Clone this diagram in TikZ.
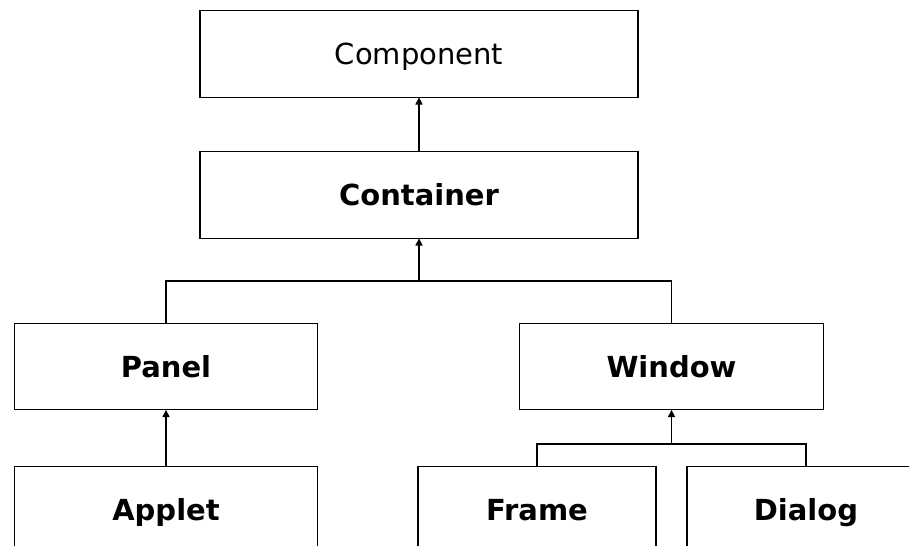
\documentclass[tikz,border=0pt]{standalone}
\usepackage{fontspec}
\setmainfont{DejaVu Sans}
\usetikzlibrary{positioning,arrows.meta}

\begin{document}
\begin{tikzpicture}[x=0.02cm, y=-0.02cm,
  box/.style={draw, line width=0.8pt, inner sep=0pt, outer sep=0pt, minimum height=1.73cm, text height=12pt, text depth=0pt, align=center, font=\fontsize{16.5}{20}\selectfont\bfseries},
  wide/.style={minimum width=8.76cm},
  mid/.style={minimum width=6.07cm},
  small/.style={minimum width=4.76cm},
  arr/.style={-{Triangle[length=4.2pt,width=4pt]}, line width=0.8pt},
  link/.style={line width=0.8pt}
]
\clip (0,0) rectangle (909,546);
\node[box, wide, font=\fontsize{16.5}{20}\selectfont] (comp) at (419,54) {Component};
\node[box, wide] (cont) at (419,195) {Container};
\node[box, mid] (panel) at (166,366.5) {Panel};
\node[box, mid] (window) at (671.5,366.5) {Window};
\node[box, mid] (applet) at (166,509.5) {Applet};
\node[box, small] (frame) at (537,509.5) {Frame};
\node[box, small] (dialog) at (806,509.5) {Dialog};
% joints of the two branchings
\coordinate (j1) at (419,281);
\coordinate (j2) at (671.5,444);
\draw[arr] (cont) -- (comp);
\draw[link] (panel.north) |- (j1) -| (window.north);
\draw[arr] (j1) -- (cont);
\draw[arr] (applet) -- (panel);
\draw[link] (frame.north) |- (j2) -| (dialog.north);
\draw[arr] (j2) -- (window);
\end{tikzpicture}
\end{document}
